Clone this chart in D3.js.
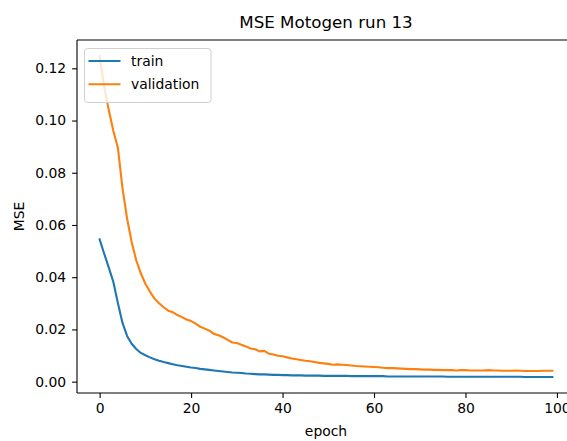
<!DOCTYPE html>
<html><head><meta charset="utf-8">
<script src="https://cdn.jsdelivr.net/npm/d3@7"></script>
<style>html,body{margin:0;padding:0;background:#fff;overflow:hidden}</style>
</head><body>
<svg id="chart" width="567" height="441"></svg>
<script>
const titleText = "MSE Motogen run 13";
const xLabel = "epoch";
const yLabel = "MSE";
const seriesNames = ["train", "validation"];
const seriesColors = ["#1f77b4", "#ff7f0e"];
const xTicks = [0, 20, 40, 60, 80, 100];
const yTicks = [0.00, 0.02, 0.04, 0.06, 0.08, 0.10, 0.12];

const train = [
0.0545,0.0490,0.0437,0.0382,0.0300,0.0225,0.0175,0.0145,0.0125,0.0110,
0.0101,0.0093,0.0086,0.0080,0.0075,0.0071,0.0067,0.0063,0.0060,0.0057,
0.0054,0.0052,0.0049,0.0047,0.0045,0.0043,0.0041,0.0039,0.0037,0.0035,
0.0034,0.0033,0.0031,0.0030,0.0029,0.0028,0.0028,0.0027,0.0026,0.0026,
0.0025,0.0025,0.0024,0.0024,0.0024,0.0023,0.0023,0.0023,0.0023,0.0022,
0.0022,0.0022,0.0022,0.0022,0.0022,0.0021,0.0021,0.0021,0.0021,0.0021,
0.0021,0.0021,0.0021,0.0020,0.0020,0.0020,0.0020,0.0020,0.0020,0.0020,
0.0020,0.0020,0.0020,0.0020,0.0020,0.0020,0.0019,0.0019,0.0019,0.0019,
0.0019,0.0019,0.0019,0.0019,0.0019,0.0019,0.0019,0.0019,0.0019,0.0019,
0.0019,0.0019,0.0019,0.0018,0.0018,0.0018,0.0018,0.0018,0.0018,0.0018];

const validation = [
0.1247,0.1130,0.1040,0.0960,0.0895,0.0740,0.0625,0.0535,0.0465,0.0415,
0.0375,0.0345,0.0318,0.0300,0.0285,0.0272,0.0266,0.0255,0.0247,0.0238,
0.0232,0.0222,0.0210,0.0203,0.0195,0.0183,0.0178,0.0170,0.0160,0.0150,
0.0148,0.0141,0.0135,0.0127,0.0124,0.0116,0.0118,0.0107,0.0104,0.0099,
0.0097,0.0093,0.0089,0.0086,0.0083,0.0080,0.0078,0.0075,0.0072,0.0070,
0.0068,0.0065,0.0066,0.0065,0.0064,0.0062,0.0060,0.0059,0.0058,0.0057,
0.0056,0.0055,0.0053,0.0052,0.0052,0.0051,0.0050,0.0049,0.0048,0.0048,
0.0047,0.0046,0.0046,0.0045,0.0045,0.0044,0.0044,0.0044,0.0043,0.0044,
0.0044,0.0043,0.0043,0.0043,0.0043,0.0044,0.0043,0.0043,0.0042,0.0042,
0.0042,0.0043,0.0042,0.0041,0.0041,0.0041,0.0041,0.0042,0.0042,0.0042];

const series = [train, validation];

const L = 77, T = 40, R = 575, B = 393;
const svg = d3.select("#chart");
const font = "'DejaVu Sans', sans-serif";

const n = train.length;
const xPad = (n - 1) * 0.05;
const x = d3.scaleLinear().domain([-xPad, n - 1 + xPad]).range([L, R]);
const allV = train.concat(validation);
const vmin = d3.min(allV), vmax = d3.max(allV);
const yPad = (vmax - vmin) * 0.05;
const y = d3.scaleLinear().domain([vmin - yPad, vmax + yPad]).range([B, T]);

// lines
const line = d3.line().x((d, i) => x(i)).y(d => y(d));
series.forEach((s, k) => {
  svg.append("path").datum(s).attr("d", line)
    .attr("fill", "none").attr("stroke", seriesColors[k])
    .attr("stroke-width", 2.1).attr("stroke-linejoin", "round").attr("stroke-linecap", "square");
});

// axes
const xAxis = d3.axisBottom(x).tickValues(xTicks).tickFormat(d3.format("d")).tickSize(4.9).tickPadding(4.9);
const gx = svg.append("g").attr("transform", `translate(0,${B})`).call(xAxis);
const yAxis = d3.axisLeft(y).tickValues(yTicks).tickFormat(d3.format(".2f")).tickSize(4.9).tickPadding(6);
const gy = svg.append("g").attr("transform", `translate(${L},0)`).call(yAxis);
[gx, gy].forEach(g => {
  g.select(".domain").remove();
  g.selectAll(".tick line").attr("stroke", "#000").attr("stroke-width", 1.1);
  g.selectAll(".tick text").attr("fill", "#000").style("font-family", font).style("font-size", "13.9px");
});

// spines
const sp = svg.append("g").attr("stroke", "#000").attr("stroke-width", 1.1).attr("fill", "none");
sp.append("line").attr("x1", L).attr("x2", L).attr("y1", T).attr("y2", B);
sp.append("line").attr("x1", L).attr("x2", R).attr("y1", B).attr("y2", B);
sp.append("line").attr("x1", L).attr("x2", R).attr("y1", T).attr("y2", T);
sp.append("line").attr("x1", R).attr("x2", R).attr("y1", T).attr("y2", B);

// title and labels
svg.append("text").attr("x", (L + R) / 2).attr("y", 28).attr("text-anchor", "middle")
  .style("font-family", font).style("font-size", "16.7px").attr("fill", "#000").text(titleText);
svg.append("text").attr("x", (L + R) / 2).attr("y", 436).attr("text-anchor", "middle")
  .style("font-family", font).style("font-size", "13.9px").attr("fill", "#000").text(xLabel);
svg.append("text").attr("transform", `translate(24,${(T + B) / 2}) rotate(-90)`).attr("text-anchor", "middle")
  .style("font-family", font).style("font-size", "13.9px").attr("fill", "#000").text(yLabel);

// legend
const lg = svg.append("g");
lg.append("rect").attr("x", 84.5).attr("y", 48.5).attr("width", 126.5).attr("height", 54)
  .attr("rx", 3).attr("fill", "#fff").attr("fill-opacity", 0.8).attr("stroke", "#d0d0d0").attr("stroke-width", 1);
seriesNames.forEach((name, k) => {
  const yy = 61 + k * 23.3;
  lg.append("line").attr("x1", 88.5).attr("x2", 120.5).attr("y1", yy).attr("y2", yy)
    .attr("stroke", seriesColors[k]).attr("stroke-width", 2.1);
  lg.append("text").attr("x", 131).attr("y", yy + 5).style("font-family", font).style("font-size", "13.9px")
    .attr("fill", "#000").text(name);
});
</script>
</body></html>
